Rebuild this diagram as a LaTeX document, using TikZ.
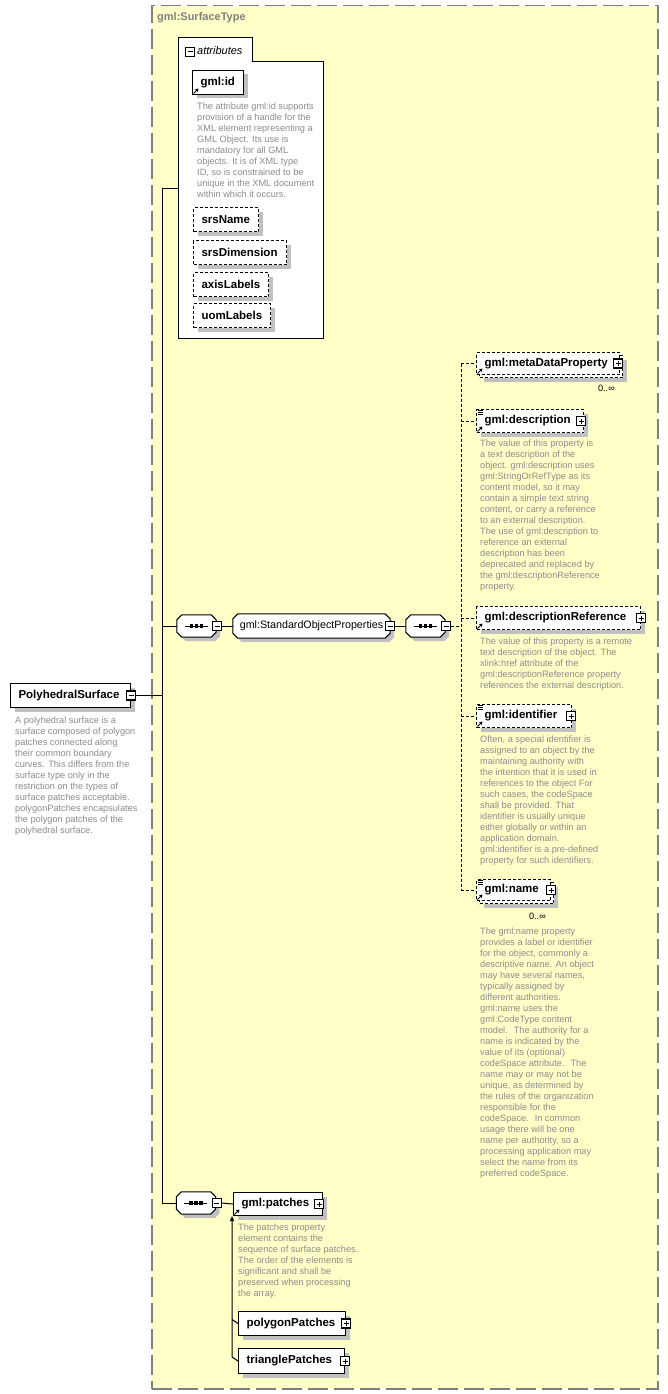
\documentclass[tikz,border=0pt]{standalone}
\usepackage{fontspec}
\setmainfont{Liberation Sans}
\usetikzlibrary{positioning}
\usetikzlibrary{shadows}
\usetikzlibrary{arrows.meta}
\definecolor{typefill}{RGB}{255,255,200}
\definecolor{typeline}{RGB}{128,128,128}
\definecolor{doctext}{RGB}{140,140,140}
\definecolor{shadowgray}{RGB}{192,192,192}
% outline of a compositor / group, cut at the corners
\newcommand\compoutline[1]{([xshift=5pt]#1.north west) -- ([xshift=-5pt]#1.north east)
  -- ([yshift=-5pt]#1.north east) -- ([yshift=5pt]#1.south east) -- ([xshift=-5pt]#1.south east)
  -- ([xshift=5pt]#1.south west) -- ([yshift=5pt]#1.south west) -- ([yshift=-5pt]#1.north west) -- cycle}
\tikzset{
  boxshadow/.style={drop shadow={shadow xshift=4pt, shadow yshift=-4pt, fill=shadowgray, opacity=1}},
  elemtext/.style={draw, fill=white, line width=1pt, anchor=north west, minimum height=24pt,
    inner xsep=8pt, inner ysep=0pt, align=left, font=\fontsize{11.5}{13}\selectfont\bfseries},
  elem/.style={elemtext, boxshadow},
  optbox/.style={dash pattern=on 3pt off 2pt},
  doc/.style={inner sep=0pt, align=left, anchor=north west, text=doctext, font=\fontsize{9.2}{11}\selectfont},
  occurs/.style={inner sep=0pt, font=\fontsize{9.2}{11}\selectfont},
  comp/.style={inner sep=0pt, minimum height=22pt},
  seq/.style={comp, minimum width=39pt},
  pm/.style={draw, fill=white, line width=1.2pt, minimum size=9pt, inner sep=0pt},
  collapsebox/.style={pm, path picture={
      \draw[line width=1pt] ([xshift=2pt]path picture bounding box.west) -- ([xshift=-2pt]path picture bounding box.east);
    }},
  expandbox/.style={pm, path picture={
      \draw[line width=1pt] ([xshift=2pt]path picture bounding box.west) -- ([xshift=-2pt]path picture bounding box.east);
      \draw[line width=1pt] ([yshift=-2pt]path picture bounding box.north) -- ([yshift=2pt]path picture bounding box.south);
    }},
  link/.style={line width=1pt},
  optlink/.style={line width=1pt, dash pattern=on 3pt off 2pt},
  refarrow/.style={-{Triangle[length=3pt,width=3.5pt]}, line width=0.9pt},
}

\begin{document}
\begin{tikzpicture}[x=1pt,y=-1pt]
  \fill[white] (0,0) rectangle (668,1394);
  \useasboundingbox (0,0) rectangle (668,1394);

  % complex type
  \node[draw=typeline, fill=typefill, line width=1.5pt, dash pattern=on 20pt off 6pt,
    anchor=north west, minimum width=506pt, minimum height=1383pt] (stype) at (151,5) {};
  \node[anchor=west, inner sep=0pt, text=typeline, font=\fontsize{11}{13}\selectfont\bfseries]
    (stype-title) at (157,18) {gml:SurfaceType};

  % attributes
  \draw[fill=white, line width=1pt] (178,38) -- (252,38) -- (252,62) -- (323,62) -- (323,338) -- (178,338) -- cycle;
  \node[collapsebox] (attrs-m) at (190,52) {};
  \node[anchor=west, inner sep=0pt, font=\fontsize{11}{13}\selectfont\itshape] (attrs-title) at (197,51) {attributes};
  \coordinate (attrs-in) at (178,188);

  \node[elem, text width=35pt] (gmlid) at (192,70) {gml:id};
  \node[doc, below right=8pt and 5pt of gmlid.south west] (gmlid-doc) {The attribute gml:id supports\\
    provision of a handle for the\\XML element representing a\\GML Object. Its use is\\
    mandatory for all GML\\objects. It is of XML type\\ID, so is constrained to be\\
    unique in the XML document\\within which it occurs.};
  \node[elem, optbox, text width=49pt] (srsname) at (193,207) {srsName};
  \node[elem, optbox, text width=77pt] (srsdim) at (193,240) {srsDimension};
  \node[elem, optbox, text width=59pt] (axislab) at (193,272) {axisLabels};
  \node[elem, optbox, text width=61pt] (uomlab) at (193,303) {uomLabels};

  % root element
  \node[elem, text width=104pt] (polysurf) at (10,683) {PolyhedralSurface};
  \node[collapsebox] (polysurf-m) at (polysurf.east) {};
  \node[doc, below right=9pt and 5pt of polysurf.south west] (polysurf-doc) {A polyhedral surface is a\\
    surface composed of polygon\\patches connected along\\their common boundary\\
    curves. This differs from the\\surface type only in the\\restriction on the types of\\
    surface patches acceptable.\\polygonPatches encapsulates\\the polygon patches of the\\
    polyhedral surface.};

  % sequences and group
  \node[seq] (seqa) at (196.5,626) {};
  \node[comp, minimum width=157pt, minimum height=24pt] (stdprops) at (311.5,626) {};
  \node[seq] (seqb) at (425.5,626) {};
  \node[seq] (seqc) at (196,1203) {};
  \foreach \n in {seqa,stdprops,seqb,seqc} {
    \fill[shadowgray, transform canvas={shift={(4pt,-4pt)}}] \compoutline{\n};
    \draw[fill=white, line width=1pt] \compoutline{\n};
  }
  \foreach \n in {seqa,seqb,seqc} {
    \draw[line width=1pt] ([xshift=-12pt]\n.center) -- ([xshift=11pt]\n.center);
    \foreach \dx in {-5,0,5}
      \fill ([xshift=\dx pt]\n.center) +(-1.6pt,-1.6pt) rectangle +(1.6pt,1.6pt);
  }
  \node[inner sep=0pt, font=\fontsize{10.7}{12}\selectfont] (stdprops-text) at (stdprops) {gml:StandardObjectProperties};
  \node[collapsebox] (seqa-m) at ([xshift=1pt]seqa.east) {};
  \node[collapsebox] (stdprops-m) at (stdprops.east) {};
  \node[collapsebox] (seqb-m) at ([xshift=1pt]seqb.east) {};
  \node[collapsebox] (seqc-m) at ([xshift=1pt]seqc.east) {};

  % standard object properties
  \node[elemtext, optbox, boxshadow, minimum height=22pt, text width=127pt] (meta-back) at (479,355) {};
  \node[elemtext, optbox, minimum height=22pt, text width=127pt] (meta) at (476,352) {gml:metaDataProperty};
  \node[expandbox] (meta-p) at ([xshift=-2pt]meta.east) {};
  \node[occurs, below left=7pt and 8pt of meta-back.south east] (meta-occ) {0..∞};

  \node[elem, optbox, minimum height=23pt, text width=91pt] (desc) at (476,409) {gml:description};
  \node[expandbox] (desc-p) at ([xshift=-3pt]desc.east) {};
  \node[doc, below right=7pt and 4pt of desc.south west] (desc-doc) {The value of this property is\\
    a text description of the\\object. gml:description uses\\gml:StringOrRefType as its\\
    content model, so it may\\contain a simple text string\\content, or carry a reference\\
    to an external description.\\The use of gml:description to\\reference an external\\
    description has been\\deprecated and replaced by\\the gml:descriptionReference\\property.};

  \node[elem, optbox, minimum height=23pt, text width=148pt] (descref) at (476,606) {gml:descriptionReference};
  \node[expandbox] (descref-p) at (descref.east) {};
  \node[doc, below right=8pt and 4pt of descref.south west] (descref-doc) {The value of this property is a remote\\
    text description of the object. The\\xlink:href attribute of the\\
    gml:descriptionReference property\\references the external description.};

  \node[elem, optbox, minimum height=23pt, text width=79pt] (ident) at (476,704) {gml:identifier};
  \node[expandbox] (ident-p) at ([xshift=-1pt]ident.east) {};
  \node[doc, below right=8pt and 4pt of ident.south west] (ident-doc) {Often, a special identifier is\\
    assigned to an object by the\\maintaining authority with\\the intention that it is used in\\
    references to the object For\\such cases, the codeSpace\\shall be provided. That\\
    identifier is usually unique\\either globally or within an\\application domain.\\
    gml:identifier is a pre-defined\\property for such identifiers.};

  \node[elemtext, optbox, boxshadow, minimum height=21pt, text width=58pt] (name-back) at (479,882) {};
  \node[elemtext, optbox, minimum height=21pt, text width=58pt] (name) at (476,879) {gml:name};
  \node[expandbox] (name-p) at (name.east) {};
  \node[occurs, below left=9pt and 8pt of name-back.south east] (name-occ) {0..∞};
  \node[doc, below right=27pt and 4pt of name.south west] (name-doc) {The gml:name property\\
    provides a label or identifier\\for the object, commonly a\\descriptive name. An object\\
    may have several names,\\typically assigned by\\different authorities.\\gml:name uses the\\
    gml:CodeType content\\model.~ The authority for a\\name is indicated by the\\
    value of its (optional)\\codeSpace attribute.~ The\\name may or may not be\\
    unique, as determined by\\the rules of the organization\\responsible for the\\
    codeSpace.~ In common\\usage there will be one\\name per authority, so a\\
    processing application may\\select the name from its\\preferred codeSpace.};

  % patches
  \node[elem, minimum height=23pt, text width=73pt] (patches) at (233,1192) {gml:patches};
  \node[expandbox] (patches-p) at ([xshift=-4pt]patches.east) {};
  \node[doc, below right=8pt and 5pt of patches.south west] (patches-doc) {The patches property\\
    element contains the\\sequence of surface patches.\\The order of the elements is\\
    significant and shall be\\preserved when processing\\the array.};
  \node[elem, text width=91pt] (polypatch) at (238,1311) {polygonPatches};
  \node[expandbox] (polypatch-p) at (polypatch.east) {};
  \node[elem, minimum height=25pt, text width=90pt] (tripatch) at (238,1348) {trianglePatches};
  \node[expandbox] (tripatch-p) at (tripatch.east) {};

  % icons
  \foreach \n in {gmlid,meta,desc,descref,ident,name,patches}
    \draw[refarrow] ([shift={(1.5pt,1.5pt)}]\n.south west) -- ++(5,-5);
  \foreach \n in {desc,ident,name}
    \foreach \dy in {1.5,3.5,5.5}
      \draw[line width=0.8pt] ([shift={(1.5pt,-\dy pt)}]\n.north west) -- ++(5,0);

  % connectors
  \coordinate (bus) at (162,188);
  \draw[link] (polysurf-m.east) -- (polysurf-m.east -| bus);
  \draw[link] (attrs-in) -- (bus) |- (seqc.west);
  \draw[link] (bus |- seqa.west) -- (seqa.west);
  \draw[link] (seqa-m.east) -- (stdprops.west);
  \draw[link] (stdprops-m.east) -- (seqb.west);
  \coordinate (fan) at (461,626);
  \draw[optlink] (seqb-m.east) -- (fan);
  \draw[optlink] (fan |- meta.west) -- (fan |- name.west);
  \foreach \c in {meta,desc,descref,ident,name}
    \draw[optlink] (fan |- \c.west) -- (\c.west);
  \draw[link] (seqc-m.east) -- (patches.west);
  \draw[link] (polypatch.west) -- ++(-6,-4);
  \draw[link, -{Triangle[length=5pt,width=4pt]}] (tripatch.west) -- ++(-6,-4) -- ([xshift=-1pt]patches.south west);
\end{tikzpicture}
\end{document}
